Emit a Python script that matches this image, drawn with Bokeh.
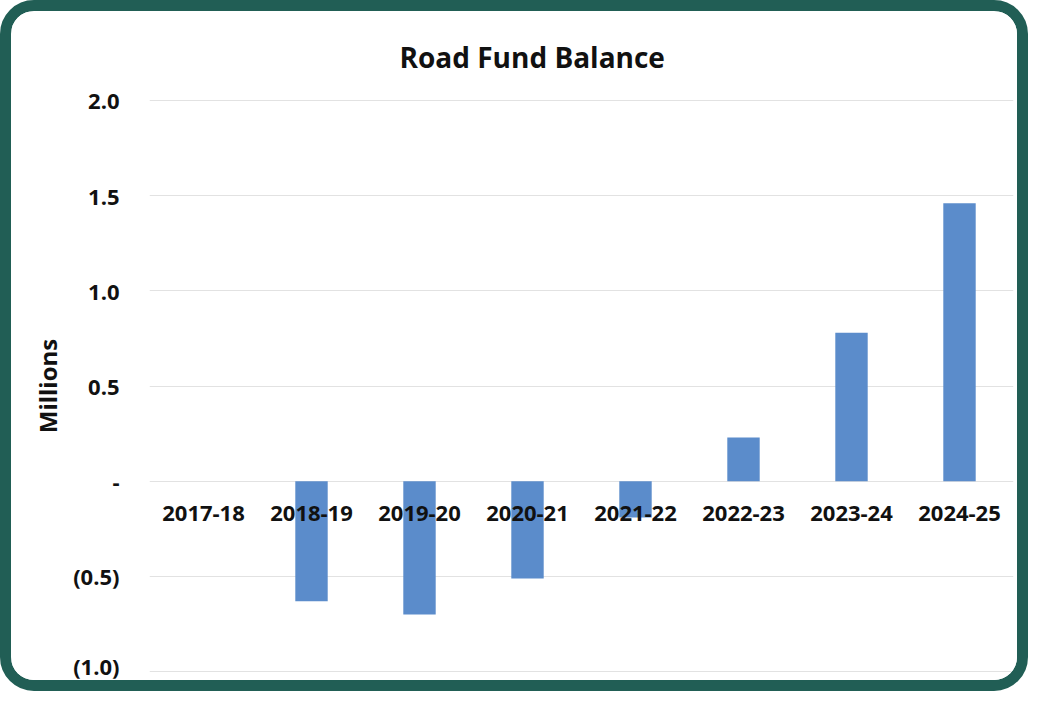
from bokeh.plotting import figure
from bokeh.models import ColumnDataSource, FixedTicker, CustomJSTickFormatter, Range1d
from bokeh.core.properties import value
from bokeh.embed import file_html
from bokeh.resources import INLINE

# ---- data ----
years = ["2017-18", "2018-19", "2019-20", "2020-21", "2021-22", "2022-23", "2023-24", "2024-25"]
balance = [0.0, -0.63, -0.70, -0.51, -0.19, 0.23, 0.78, 1.46]
y_ticks = [-1.0, -0.5, 0.0, 0.5, 1.0, 1.5, 2.0]
title_text = "Road Fund Balance"
y_label = "Millions"

FONT = "Open Sans"
BAR = "#5b8ccb"
BORDER = "#215e55"

src = ColumnDataSource(dict(year=years, bal=balance, zero=[0.0] * len(years)))

p = figure(
    x_range=years,
    y_range=Range1d(min(y_ticks) - 0.004, max(y_ticks) + 0.004),
    width=1028, height=691,
    output_backend="svg", toolbar_location=None,
    min_border_left=138, min_border_right=26, min_border_top=87, min_border_bottom=30,
    title=title_text,
)
p.styles = {"border": f"11px solid {BORDER}", "border-radius": "34px", "overflow": "hidden"}

p.vbar(x="year", top="bal", bottom=0, width=0.3, source=src,
       fill_color=BAR, line_color=None)

p.text(x="year", y="zero", text="year", source=src,
       text_font=value(FONT), text_font_style="bold", text_font_size="22px",
       text_color="#111111", text_align="center", text_baseline="middle", y_offset=32)

p.title.text_font = FONT
p.title.text_font_size = "28px"
p.title.text_font_style = "bold"
p.title.text_color = "#111111"
p.title.align = "left"
p.title.offset = 250
p.title.standoff = 48

p.xaxis.visible = False

ya = p.yaxis[0]
ya.ticker = FixedTicker(ticks=y_ticks)
ya.formatter = CustomJSTickFormatter(code="""
    if (Math.abs(tick) < 1e-9) { return "-"; }
    if (tick < 0) { return "(" + Math.abs(tick).toFixed(1) + ")"; }
    return tick.toFixed(1);
""")
ya.axis_line_color = None
ya.major_tick_line_color = None
ya.minor_tick_line_color = None
ya.major_label_standoff = 24
ya.major_label_text_font = FONT
ya.major_label_text_font_style = "bold"
ya.major_label_text_font_size = "22px"
ya.major_label_text_color = "#111111"
ya.axis_label = y_label
ya.axis_label_text_font = FONT
ya.axis_label_text_font_style = "bold"
ya.axis_label_text_font_size = "24px"
ya.axis_label_text_color = "#111111"
ya.axis_label_standoff = 6

p.xgrid.grid_line_color = None
p.ygrid.ticker = FixedTicker(ticks=y_ticks)
p.ygrid.grid_line_color = "#e2e2e2"
p.ygrid.grid_line_width = 1
p.outline_line_color = None
p.background_fill_color = "white"
p.border_fill_color = "white"

open("out.html", "w").write(file_html(p, INLINE))
